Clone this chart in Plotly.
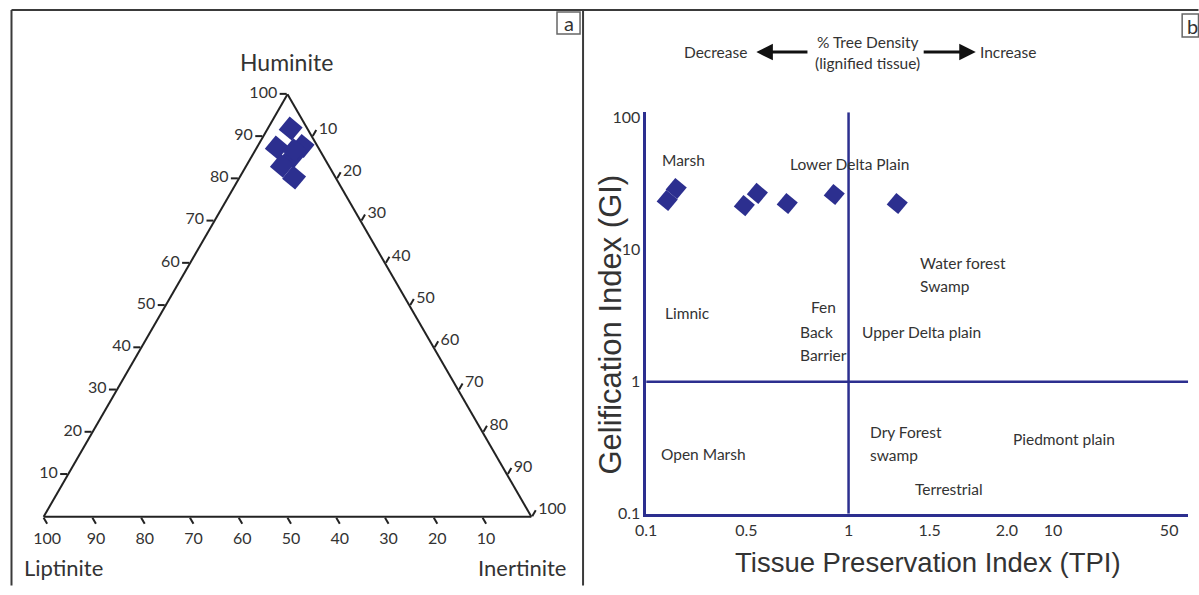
import numpy as np
import plotly.graph_objects as go

W, H = 1199, 595

# ---------------- data ----------------
# Panel a: maceral composition (%), ternary
huminite = [91.9, 87.4, 87.8, 85.2, 83.1, 80.3, 86.8]
liptinite = [3.4, 8.5, 3.0, 6.4, 9.6, 8.5, 5.2]
inertinite = [4.7, 4.1, 9.2, 8.4, 7.3, 11.2, 8.0]
ternary_ticks = [10, 20, 30, 40, 50, 60, 70, 80, 90, 100]

# Panel b: TPI vs GI
tpi = [0.184, 0.22, 0.492, 0.554, 0.70, 0.93, 1.30]
gi = [23.5, 29.0, 21.5, 26.6, 22.3, 26.1, 22.3]
tpi_tick_values = [0.1, 0.5, 1, 1.5, 2.0, 10, 50]
tpi_tick_labels = ["0.1", "0.5", "1", "1.5", "2.0", "10", "50"]
gi_tick_values = [0.1, 1, 10, 100]
gi_tick_labels = ["0.1", "1", "10", "100"]
tpi_boundary = 1
gi_boundary = 1

# schematic (non-uniform) TPI axis: where each tick sits along the axis
tpi_axis_positions = [0, 0.495, 1, 1.401, 1.782, 2.01, 2.584]
x_range = [0, 2.678]
y_range_log = [-1, 2.04]

NAVY = "#2c2f8f"
TXT = "#333333"
FONT = "Lato"

# screen calibration: the captured page shows paper (0..W, 0..H)
# at roughly (11..1199, 5..585) of the picture
OFF_X, SCL_X, OFF_Y, SCL_Y = 11.0, 0.989, 5.0, 0.975


def tpi_to_axis(v):
    return np.interp(v, tpi_tick_values, tpi_axis_positions)


def sx(x):  # picture x -> paper pixel
    return min(max((x - OFF_X) / SCL_X, 0.5), W - 0.5)


def sy(y):  # picture y -> paper pixel
    return min(max((y - OFF_Y) / SCL_Y, 0.5), H - 0.5)


def px(x):
    return sx(x) / W


def py(y):
    return 1 - sy(y) / H


fig = go.Figure()

# ---------- panel a: ternary ----------
fig.add_trace(go.Scatterternary(
    a=huminite, b=liptinite, c=inertinite, mode="markers",
    marker=dict(symbol="square", size=17, angle=40, color=NAVY, line=dict(width=0)),
    hoverinfo="skip", showlegend=False,
))

# ---------- panel b: GI vs TPI ----------
fig.add_trace(go.Scatter(
    x=list(x_range), y=[gi_boundary, gi_boundary], mode="lines",
    line=dict(color=NAVY, width=2.5), hoverinfo="skip", showlegend=False,
))
fig.add_trace(go.Scatter(
    x=[tpi_to_axis(tpi_boundary)] * 2, y=[10 ** y_range_log[0], 10 ** y_range_log[1]],
    mode="lines", line=dict(color=NAVY, width=2.5), hoverinfo="skip", showlegend=False,
))
fig.add_trace(go.Scatter(
    x=tpi_to_axis(tpi), y=gi, mode="markers",
    marker=dict(symbol="square", size=15, angle=40, color=NAVY, line=dict(width=0)),
    hoverinfo="skip", showlegend=False,
))

tick_font = dict(family=FONT, size=16, color=TXT)
tern_axis = dict(
    tickvals=ternary_ticks, ticks="outside", ticklen=7, tickwidth=1.5,
    tickcolor="#222", linecolor="#222", linewidth=2, showgrid=False,
    tickfont=tick_font, title=dict(text=""),
)

annotations = []


def label(text, x, y, size=15.5, xanchor="left", family=FONT, angle=0):
    annotations.append(dict(
        text=text, x=px(x), y=py(y), xref="paper", yref="paper",
        xanchor=xanchor, yanchor="middle", showarrow=False, textangle=angle,
        font=dict(family=family, size=size, color=TXT),
    ))


# ternary titles
label("Huminite", 286, 62, size=23, xanchor="center")
label("Liptinite", 63, 567, size=22, xanchor="center")
label("Inertinite", 521, 567, size=22, xanchor="center")

# panel b region names
label("Marsh", 659, 160)
label("Lower Delta Plain", 787, 164)
label("Water forest", 916, 263)
label("Swamp", 916, 286)
label("Limnic", 686, 313, xanchor="center")
label("Fen", 808, 307)
label("Back", 797, 332)
label("Barrier", 797, 354)
label("Upper Delta plain", 858, 332)
label("Open Marsh", 658, 453)
label("Dry Forest", 866, 431)
label("swamp", 866, 454)
label("Piedmont plain", 1009, 438)
label("Terrestrial", 911, 488)

# header
label("Decrease", 681, 52)
label("% Tree Density", 866, 42, xanchor="center")
label("(lignified tissue)", 866, 63, xanchor="center")
label("Increase", 976, 52)

# axis titles
label("Tissue Preservation Index (TPI)", 926, 562, size=27.5, xanchor="center",
      family="Liberation Sans")
label("Gelification Index (GI)", 609, 324, size=31, xanchor="center",
      family="Liberation Sans", angle=-90)

# arrows
for tip, tail in [(755, 807), (974, 921)]:
    annotations.append(dict(
        text="", x=px(tip), y=py(52), xref="paper", yref="paper",
        showarrow=True, ax=sx(tail) - sx(tip), ay=0, arrowhead=2, arrowsize=1.1,
        arrowwidth=3, arrowcolor="#111",
    ))

# panel letters
label("a", 567.5, 23, size=20, xanchor="center")
label("b", 1190, 26, size=20, xanchor="center")

shapes = []
frame = dict(color="#3a3a3a", width=2)
for x0, y0, x1, y1 in [(8, 10, 1199, 10), (9, 10, 9, 595), (582, 10, 582, 595)]:
    shapes.append(dict(type="line", xref="paper", yref="paper",
                       x0=px(x0), y0=py(y0), x1=px(x1), y1=py(y1), line=frame))
for x0, y0, x1, y1 in [(556, 12, 579, 34), (1180, 14, 1202, 37)]:
    shapes.append(dict(type="rect", xref="paper", yref="paper",
                       x0=px(x0), y0=py(y0), x1=px(x1), y1=py(y1),
                       line=dict(color="#666", width=1.5)))

# ternary domain: equilateral triangle with base from x=40 to x=534 at y=516 (picture px)
tri_w = sx(534) - sx(40)
tri_h = tri_w * np.sqrt(3) / 2
base = sy(516)
tern_domain = dict(x=[px(40), px(534)], y=[1 - base / H, 1 - (base - tri_h) / H])

fig.update_layout(
    width=W, height=H, margin=dict(l=0, r=0, t=0, b=0),
    paper_bgcolor="white", plot_bgcolor="white", showlegend=False,
    ternary=dict(
        sum=100, bgcolor="white", domain=tern_domain,
        aaxis=tern_axis, baxis=tern_axis, caxis=tern_axis,
    ),
    xaxis=dict(
        domain=[px(645), px(1186)], range=x_range, anchor="y",
        showline=True, linecolor=NAVY, linewidth=2.5, showgrid=False, zeroline=False,
        tickmode="array", tickvals=tpi_axis_positions, ticktext=tpi_tick_labels,
        ticks="", tickfont=tick_font,
    ),
    yaxis=dict(
        domain=[py(513), py(112)], type="log", range=y_range_log, anchor="x",
        showline=True, linecolor=NAVY, linewidth=2.5, showgrid=False, zeroline=False,
        tickmode="array", tickvals=gi_tick_values, ticktext=gi_tick_labels,
        ticks="", tickfont=tick_font,
    ),
    annotations=annotations, shapes=shapes,
)

fig.write_html("out.html")
